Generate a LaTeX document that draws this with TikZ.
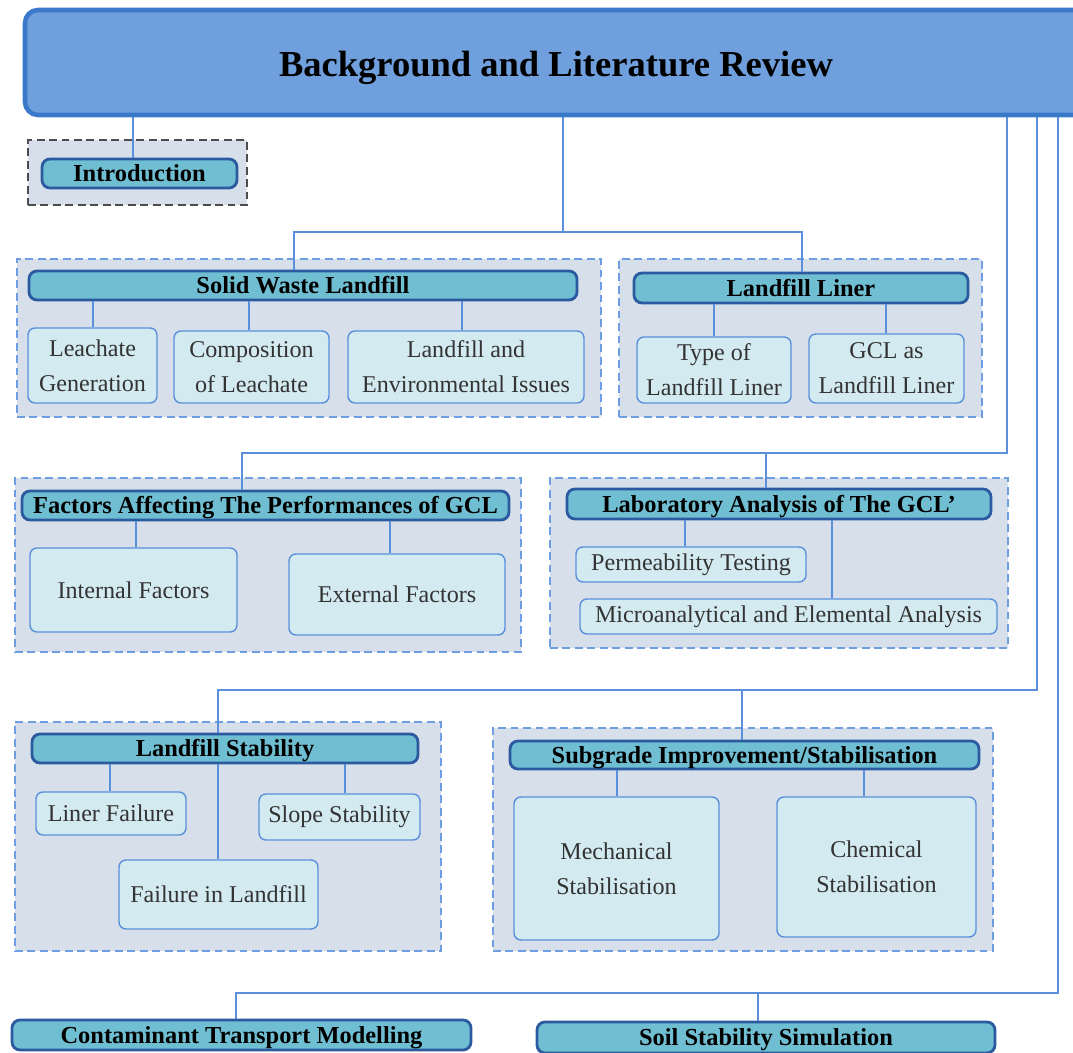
\documentclass[tikz,border=0pt]{standalone}
\usepackage{fontspec}
\setmainfont{Liberation Serif}
\usetikzlibrary{positioning}

\definecolor{mainfill}{HTML}{6F9FDC}
\definecolor{mainline}{HTML}{3A78CA}
\definecolor{headfill}{HTML}{6FBED2}
\definecolor{headline}{HTML}{2C5AA0}
\definecolor{leaffill}{HTML}{D3EAF1}
\definecolor{leafline}{HTML}{5A90DA}
\definecolor{grpfill}{HTML}{D6DFEA}
\definecolor{grpline}{HTML}{6F9DE2}
\definecolor{linkcol}{HTML}{5B8FD9}

\begin{document}
\begin{tikzpicture}[
		x=0.02cm, y=-0.02cm,
		sz/.style 2 args={minimum width=#1*0.02cm, minimum height=#2*0.02cm},
		title/.style={draw=mainline, line width=2.6pt, fill=mainfill, rounded corners=0.26cm, inner sep=0pt, text height=15.4pt, text depth=0pt, font=\fontsize{20.8}{24}\selectfont\bfseries},
		head/.style={draw=headline, line width=1.6pt, fill=headfill, rounded corners=0.16cm, inner sep=0pt, text height=9.6pt, text depth=0pt, font=\fontsize{13.9}{16}\selectfont\bfseries},
		leaf/.style={draw=leafline, line width=0.8pt, fill=leaffill, rounded corners=0.14cm, inner sep=0pt, align=center, text=black!80, font=\fontsize{13.7}{20}\selectfont},
		group/.style={draw=grpline, fill=grpfill, line width=1pt, dash pattern=on 4.5pt off 2.6pt, inner sep=0pt},
		link/.style={draw=linkcol, line width=1.1pt}
		]
		\useasboundingbox (0,0) rectangle (1073,1053);

		% top box
		\node[title, sz={1062}{105}] (main) at (556,62.5) {Background and Literature Review};

		% groups
		\node[group, draw=black!70, line width=1.1pt, sz={219}{65}] (introgrp) at (137.5,172.5) {};
		\node[group, sz={584}{158}] (swlgrp) at (309,338) {};
		\node[group, sz={363}{158}] (linergrp) at (800.5,338) {};
		\node[group, sz={506}{174}] (factgrp) at (268,565) {};
		\node[group, sz={458}{170}] (labgrp) at (779,563) {};
		\node[group, sz={426}{229}] (stabgrp) at (228,836.5) {};
		\node[group, sz={500}{223}] (subgrp) at (743,839.5) {};

		% headers
		\node[head, sz={195}{29}] (intro) at (139.5,173.5) {Introduction};
		\node[head, sz={548}{29}] (swl) at (303,285.5) {Solid Waste Landfill};
		\node[head, sz={334}{30}] (liner) at (801,288) {Landfill Liner};
		\node[head, sz={487}{29}] (fact) at (265.5,505.5) {Factors Affecting The Performances of GCL};
		\node[head, sz={424}{30}] (lab) at (779,504) {Laboratory Analysis of The GCL’};
		\node[head, sz={386}{29}] (stab) at (225,748.5) {Landfill Stability};
		\node[head, sz={469}{28}] (sub) at (744.5,755) {Subgrade Improvement/Stabilisation};
		\node[head, sz={459}{30}] (ctm) at (241.5,1035) {Contaminant Transport Modelling};
		\node[head, sz={458}{31}] (sss) at (766,1037.5) {Soil Stability Simulation};

		% leaves
		\node[leaf, sz={129}{75}] (leach) at (92.5,365.5) {Leachate\\Generation};
		\node[leaf, sz={155}{72}] (comp) at (251.5,367) {Composition\\of Leachate};
		\node[leaf, sz={236}{72}] (envi) at (466,367) {Landfill and\\Environmental Issues};
		\node[leaf, sz={154}{66}] (ltype) at (714,370) {Type of\\Landfill Liner};
		\node[leaf, sz={155}{69}] (lgcl) at (886.5,368.5) {GCL as\\Landfill Liner};
		\node[leaf, sz={207}{84}] (intf) at (133.5,590) {Internal Factors};
		\node[leaf, sz={216}{81}] (extf) at (397,594.5) {External Factors};
		\node[leaf, sz={230}{35}] (perm) at (691,564.5) {Permeability Testing};
		\node[leaf, sz={417}{35}] (micro) at (788.5,616.5) {Microanalytical and Elemental Analysis};
		\node[leaf, sz={150}{43}] (lfail) at (111,813.5) {Liner Failure};
		\node[leaf, sz={161}{46}] (slope) at (339.5,817) {Slope Stability};
		\node[leaf, sz={199}{69}] (ffail) at (218.5,894.5) {Failure in Landfill};
		\node[leaf, sz={205}{143}] (mech) at (616.5,868.5) {Mechanical\\Stabilisation};
		\node[leaf, sz={199}{140}] (chem) at (876.5,867) {Chemical\\Stabilisation};

		% bus points
		\coordinate (busA) at (563,232);
		\coordinate (busAl) at (294,232);
		\coordinate (busAr) at (802,232);
		\coordinate (busBr) at (1007,453);
		\coordinate (busBl) at (242,453);
		\coordinate (busBm) at (766,453);
		\coordinate (busCr) at (1037,690);
		\coordinate (busCl) at (218,690);
		\coordinate (busCm) at (742,690);
		\coordinate (busDr) at (1058,993);
		\coordinate (busDl) at (236,993);
		\coordinate (busDm) at (758,993);

		% links
		\draw[link] (main.south -| 133,0) -- (intro.north -| 133,0);
		\draw[link] (main.south -| busA) -- (busA);
		\draw[link] (swl.north -| busAl) |- (busAr) -- (liner.north -| busAr);
		\draw[link] (main.south -| busBr) -- (busBr) -- (busBl) -- (fact.north -| busBl);
		\draw[link] (busBm) -- (lab.north -| busBm);
		\draw[link] (main.south -| busCr) -- (busCr) -- (busCl) -- (stab.north -| busCl);
		\draw[link] (busCm) -- (sub.north -| busCm);
		\draw[link] (main.south -| busDr) -- (busDr) -- (busDl) -- (ctm.north -| busDl);
		\draw[link] (busDm) -- (sss.north -| busDm);

		\foreach \c/\x in {leach/93, comp/249, envi/462}
			\draw[link] (swl.south -| \x,0) -- (\c.north -| \x,0);
		\foreach \c/\x in {ltype/714, lgcl/886}
			\draw[link] (liner.south -| \x,0) -- (\c.north -| \x,0);
		\foreach \c/\x in {intf/136, extf/390}
			\draw[link] (fact.south -| \x,0) -- (\c.north -| \x,0);
		\foreach \c/\x in {perm/685, micro/832}
			\draw[link] (lab.south -| \x,0) -- (\c.north -| \x,0);
		\foreach \c/\x in {lfail/110, ffail/218, slope/345}
			\draw[link] (stab.south -| \x,0) -- (\c.north -| \x,0);
		\foreach \c/\x in {mech/617, chem/864}
			\draw[link] (sub.south -| \x,0) -- (\c.north -| \x,0);
	\end{tikzpicture}
\end{document}
